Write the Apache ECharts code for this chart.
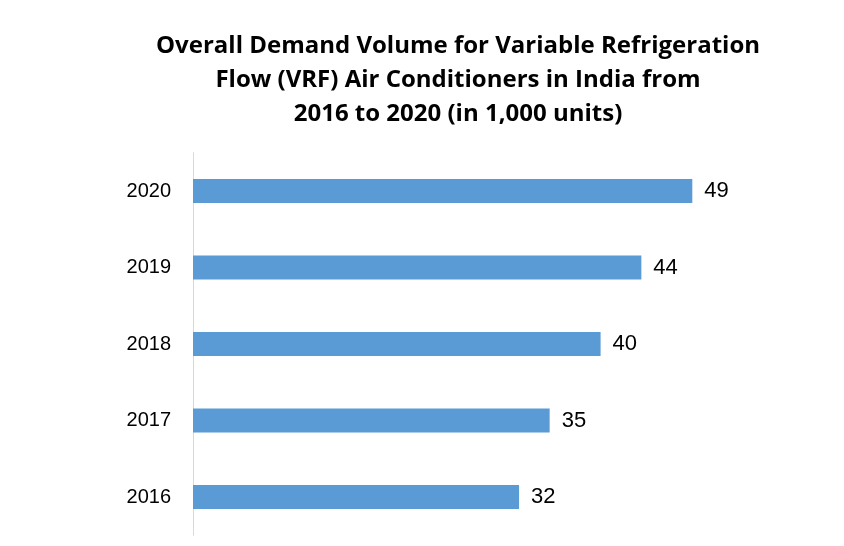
<!DOCTYPE html>
<html>
<head>
<meta charset="utf-8">
<script src="https://cdn.jsdelivr.net/npm/echarts@6/dist/echarts.min.js"></script>
<style>
    html, body { margin: 0; padding: 0; background: #fff; }
    #chart { width: 844px; height: 546px; }
</style>
</head>
<body>
<div id="chart"></div>
<script>
// data
const years = ['2016', '2017', '2018', '2019', '2020']
const demand = [32, 35, 40, 44, 49] // in 1,000 units
const titleLines = [
    'Overall Demand Volume for Variable Refrigeration',
    'Flow (VRF) Air Conditioners in India from',
    '2016 to 2020 (in 1,000 units)',
]

const myChart = echarts.init(document.getElementById('chart'))
const font = '"Liberation Sans", Arial, sans-serif'

let option = {
    animation: false,
    color: ['#5B9BD5'],
    title: {
        text: titleLines.join('\n'),
        left: 453,
        top: 24,
        textAlign: 'center',
        textStyle: {
            fontFamily: '"Open Sans", sans-serif',
            fontWeight: 'bold',
            fontSize: 24,
            lineHeight: 34,
            color: '#000',
        },
    },
    grid: {
        left: 193,
        top: 152.75,
        height: 382.5,
        width: 611.4,
        containLabel: false,
    },
    xAxis: {
        type: 'value',
        min: 0,
        max: 60,
        show: false,
    },
    yAxis: {
        type: 'category',
        data: years,
        axisLine: { show: true, lineStyle: { color: '#D9D9D9', width: 1 } },
        axisTick: { show: false },
        axisLabel: {
            margin: 22,
            fontFamily: font,
            fontSize: 20,
            color: '#000',
        },
    },
    series: [
        {
            type: 'bar',
            data: demand,
            barWidth: 24,
            label: {
                show: true,
                position: 'right',
                distance: 12,
                fontFamily: font,
                fontSize: 22,
                color: '#000',
            },
        },
    ],
}
myChart.setOption(option)
</script>
</body>
</html>
